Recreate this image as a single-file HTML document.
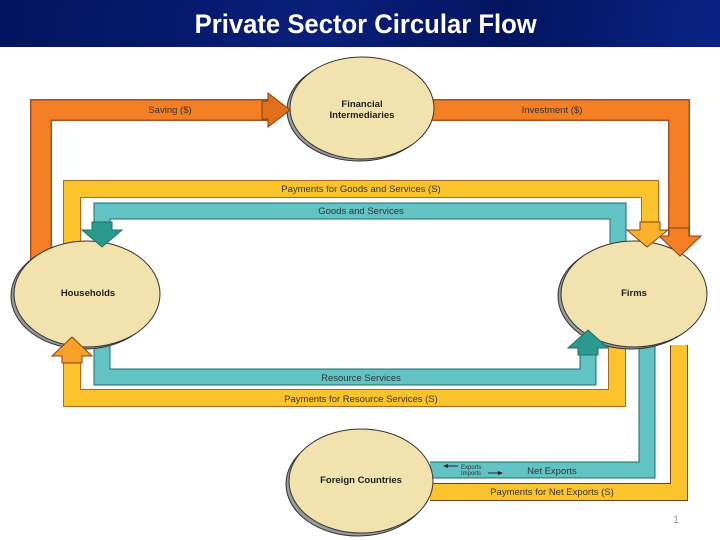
<!DOCTYPE html>
<html><head><meta charset="utf-8"><style>
html,body{margin:0;padding:0;width:720px;height:540px;overflow:hidden;background:#fff}
.hdr{position:absolute;left:0;top:0;width:720px;height:47px;background:linear-gradient(100deg,#02135e 0%,#0a1f7a 45%,#03145f 70%,#0b2385 100%)}
.hdr div{color:#fff;font:bold 27px "Liberation Sans",sans-serif;text-align:center;line-height:48px;padding-left:12px;transform:scaleX(0.95)}
svg{position:absolute;left:0;top:0}
</style></head><body>
<div class="hdr"><div>Private Sector Circular Flow</div></div>
<svg width="720" height="540" viewBox="0 0 720 540" font-family="Liberation Sans, sans-serif">
<g stroke-linejoin="miter" fill="none">
<polyline points="41,262 41,110 272,110" stroke="#a9501a" stroke-width="22"/>
<polyline points="41,262 41,110 272,110" stroke="#f47f25" stroke-width="19"/>
<polyline points="430,110 679,110 679,240" stroke="#a9501a" stroke-width="22"/>
<polyline points="430,110 679,110 679,240" stroke="#f47f25" stroke-width="19"/>
<polyline points="72,248 72,189 650,189 650,230" stroke="#b06a1a" stroke-width="18"/>
<polyline points="72,248 72,189 650,189 650,230" stroke="#fcc42c" stroke-width="16"/>
<polyline points="618,250 618,211 102,211 102,230" stroke="#1e6e66" stroke-width="17"/>
<polyline points="618,250 618,211 102,211 102,230" stroke="#62c3c4" stroke-width="15"/>
<polyline points="102,345 102,377 588,377 588,345" stroke="#1e6e66" stroke-width="17"/>
<polyline points="102,345 102,377 588,377 588,345" stroke="#62c3c4" stroke-width="15"/>
<polyline points="617,345 617,398 72,398 72,352" stroke="#b06a1a" stroke-width="18"/>
<polyline points="617,345 617,398 72,398 72,352" stroke="#fcc42c" stroke-width="16"/>
<polyline points="647,345 647,470 430,470" stroke="#1e6e66" stroke-width="17"/>
<polyline points="647,345 647,470 430,470" stroke="#62c3c4" stroke-width="15"/>
<polyline points="679,345 679,492 430,492" stroke="#7a3e10" stroke-width="18"/>
<polyline points="679,345 679,492 430,492" stroke="#fcc42c" stroke-width="16"/>
</g>
<g stroke="#333" stroke-width="1">
<ellipse cx="359" cy="110" rx="72" ry="51" fill="#999"/>
<ellipse cx="362" cy="108" rx="72" ry="51" fill="#f2e2ad"/>
<ellipse cx="84" cy="296" rx="73" ry="53" fill="#999"/>
<ellipse cx="87" cy="294" rx="73" ry="53" fill="#f2e2ad"/>
<ellipse cx="631" cy="296" rx="73" ry="53" fill="#999"/>
<ellipse cx="634" cy="294" rx="73" ry="53" fill="#f2e2ad"/>
<ellipse cx="358" cy="484" rx="72" ry="52" fill="#999"/>
<ellipse cx="361" cy="481" rx="72" ry="52" fill="#f2e2ad"/>
</g>
<!-- arrowheads on top -->
<g stroke-width="1">
<polygon points="268,93 268,101 262,101 262,119 268,119 268,127 290,110" fill="#e0701c" stroke="#8a4010"/>
<polygon points="659,236 669,236 669,228 689,228 689,236 701,236 680,256" fill="#f47f25" stroke="#8a4010"/>
<polygon points="627,230 640,230 640,222 660,222 660,230 668,230 647,247" fill="#fbb12a" stroke="#8a4010"/>
<polygon points="82,230 92,230 92,222 112,222 112,230 122,230 102,247" fill="#2a9a8e" stroke="#1e6e66"/>
<polygon points="52,356 62,356 62,363 82,363 82,356 92,356 72,337" fill="#f7a02a" stroke="#8a4010"/>
<polygon points="568,348 578,348 578,355 598,355 598,348 608,348 588,330" fill="#2a9a8e" stroke="#1e6e66"/>
</g>
<g font-size="9.5" fill="#222" text-anchor="middle" font-weight="bold">
<text x="362" y="107">Financial</text><text x="362" y="118">Intermediaries</text>
<text x="88" y="296">Households</text>
<text x="634" y="296">Firms</text>
<text x="361" y="483">Foreign Countries</text>
</g>
<g font-size="9.5" fill="#333" text-anchor="middle">
<text x="170" y="113">Saving ($)</text>
<text x="552" y="113">Investment ($)</text>
<text x="361" y="192">Payments for Goods and Services (S)</text>
<text x="361" y="214">Goods and Services</text>
<text x="361" y="381">Resource Services</text>
<text x="361" y="402">Payments for Resource Services (S)</text>
<text x="552" y="474">Net Exports</text>
<text x="552" y="495">Payments for Net Exports (S)</text>
</g>
<g font-size="6" fill="#333">
<text x="461" y="469">Exports</text><text x="461" y="475">Imports</text>
</g>
<line x1="446" y1="466" x2="458" y2="466" stroke="#222" stroke-width="1"/>
<polygon points="443,466 448,464 448,468" fill="#222"/>
<line x1="488" y1="473" x2="500" y2="473" stroke="#222" stroke-width="1"/>
<polygon points="503,473 498,471 498,475" fill="#222"/>
<text x="673" y="523" font-size="11" fill="#999">1</text>
</svg>
</body></html>
